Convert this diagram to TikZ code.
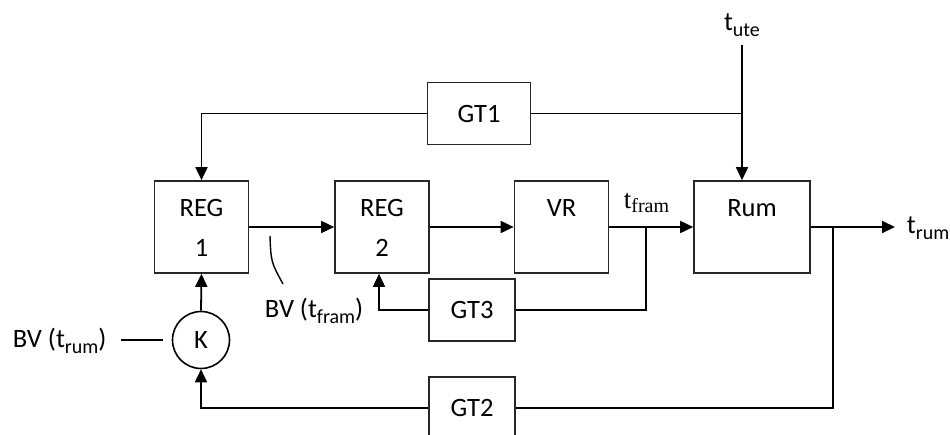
\documentclass[tikz,border=0pt]{standalone}
\usepackage{fontspec}
\setmainfont{Carlito}
\newfontfamily\serifff{Liberation Serif}
\usetikzlibrary{arrows.meta}
\newcommand\mysub[1]{\raisebox{-0.22em}{\fontsize{20}{20}\selectfont #1}}
\begin{document}
\begin{tikzpicture}[x=1pt,y=-1pt,
  line width=1.8pt,
  every node/.style={font=\fontsize{26.5}{30}\selectfont, inner sep=0pt},
  box/.style={draw, rectangle, line width=1.7pt, draw=black!85},
  bigbox/.style={box, minimum width=94pt, minimum height=92pt},
  gtbox/.style={box, minimum width=86pt, minimum height=62pt},
  arr/.style={-{Triangle[length=13pt,width=12pt]}},
  lbl/.style={anchor=center}]
\useasboundingbox (0,0) rectangle (950,435);
\clip (0,0) rectangle (950,435);
% boxes
\node[bigbox] (REG1) at (201.5,227) {};
\node[bigbox] (REG2) at (382,227) {};
\node[bigbox] (VR) at (561.5,227) {};
\node[bigbox, minimum width=116pt] (Rum) at (752,227) {};
\node[gtbox, minimum width=103pt] (GT1) at (479,113.5) {GT1};
\node[gtbox] (GT3) at (472,310) {GT3};
\node[gtbox] (GT2) at (472,408) {GT2};
\node[draw, circle, minimum size=57pt, line width=1.6pt] (K) at (201,340) {K};
% box texts
\node[lbl] (t1a) at (201.5,208) {REG};
\node[lbl] (t1b) at (201.5,248) {1};
\node[lbl] (t2a) at (382,208) {REG};
\node[lbl] (t2b) at (382,248) {2};
\node[lbl] (tvr) at (561.5,208) {VR};
\node[lbl] (trm) at (752,208) {Rum};
% labels
\node[anchor=base] (tute) at (742,31) {t\mysub{ute}};
\node[anchor=base west] (trum) at (906,234) {t\mysub{rum}};
\node[anchor=base west, font=\serifff\fontsize{27}{30}\selectfont] (tfram) at (623,209) {t\raisebox{-0.12em}{\fontsize{20}{20}\selectfont fram}};
\node[anchor=base west] (bvf) at (264,318) {BV (t\mysub{fram})};
\node[anchor=base west] (bvr) at (12,348) {BV (t\mysub{rum})};
% coordinates
\coordinate (tuteTop) at (742,45);
\coordinate (j1) at (646,227);
\coordinate (j2) at (833,227);
\coordinate (tout) at (895,227);
\coordinate (bvL) at (121,340);
\coordinate (bvR) at (163,340);
\coordinate (cvA) at (270,236);
\coordinate (cvB) at (283,284);
% connectors
\draw[arr] (GT1.west) -| (REG1.north);
\draw (GT1.east) -- (tuteTop |- GT1.east);
\draw[arr] (tuteTop) -- (tuteTop |- Rum.north);
\draw[arr] (REG1.east) -- (REG2.west);
\draw[arr] (REG2.east) -- (VR.west);
\draw[arr] (VR.east) -- (Rum.west);
\draw (j1) |- (GT3.east);
\draw[arr] (GT3.west) -| ([xshift=-3pt]REG2.south);
\draw[arr] (Rum.east) -- (tout);
\draw (j2) |- (GT2.east);
\draw[arr] (GT2.west) -| (K.south);
\draw[arr] (K.north) -- (REG1.south);
\draw (bvL) -- (bvR);
\draw[line width=1.4pt] (cvA) .. controls (271,262) .. (cvB);
\end{tikzpicture}
\end{document}
